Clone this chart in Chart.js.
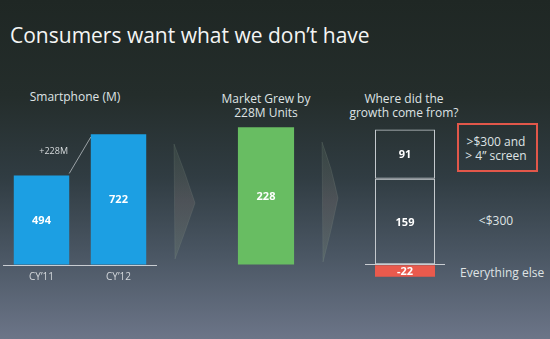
<!DOCTYPE html>
<html>
<head>
<meta charset="utf-8">
<script src="https://cdn.jsdelivr.net/npm/chart.js@4"></script>
<style>
  html, body { margin: 0; padding: 0; }
  body {
    width: 550px; height: 339px; overflow: hidden; position: relative;
    background: linear-gradient(180deg, #1f2724 0%, #242d2b 28%, #303c42 52%, #4a5663 75%, #6c7588 100%);
    font-family: "Open Sans", sans-serif; color: #dfe3e4;
  }
  .txt { position: absolute; white-space: nowrap; font-size: 12px; line-height: 14px; text-align: center; }
  #title { left: 10px; top: 20px; font-size: 21px; line-height: 30px; color: #f4f5f4; }
  .chartBox { position: absolute; }
  #redBox { position: absolute; left: 457px; top: 123px; width: 77px; height: 45px; border: 2px solid #e2574a; }
  svg { position: absolute; left: 0; top: 0; }
</style>
</head>
<body>

<div id="title" class="txt">Consumers want what we don’t have</div>

<div class="txt" style="left:15px; top:90px; width:120px;">Smartphone (M)</div>
<div class="txt" style="left:206px; top:92px; width:120px;">Market Grew by<br>228M Units</div>
<div class="txt" style="left:344px; top:92px; width:120px;">Where did the<br>growth come from?</div>

<div id="redBox"></div>
<div class="txt" style="left:436px; top:135px; width:120px;">&gt;$300 and<br>&gt; 4” screen</div>
<div class="txt" style="left:436px; top:214px; width:120px;">&lt;$300</div>
<div class="txt" style="left:460px; top:266px; text-align:left;">Everything else</div>

<!-- chevrons between the panels -->
<svg width="550" height="339">
  <defs>
    <linearGradient id="chev" x1="0" y1="0" x2="0" y2="1">
      <stop offset="0" stop-color="#6f8a70" stop-opacity="0.18"/>
      <stop offset="0.5" stop-color="#8a7a78" stop-opacity="0.26"/>
      <stop offset="1" stop-color="#7f957a" stop-opacity="0.22"/>
    </linearGradient>
  </defs>
  <path d="M174 144 Q185 172 195 203 Q185 232 175 259 Z" fill="url(#chev)" stroke="#9aab9a" stroke-opacity="0.18" stroke-width="0.8"/>
  <path d="M322 142 Q332 168 338 198 Q331 232 323 262 Z" fill="url(#chev)" stroke="#9aab9a" stroke-opacity="0.18" stroke-width="0.8"/>
</svg>

<div class="chartBox" style="left:3px; top:120px; width:154px; height:161px;"><canvas id="c1"></canvas></div>
<div class="chartBox" style="left:227px; top:114px; width:78px; height:151px;"><canvas id="c2"></canvas></div>
<div class="chartBox" style="left:365px; top:124px; width:80px; height:157px;"><canvas id="c3"></canvas></div>

<script>
// ---------------- DATA ----------------
const years = ["CY’11", "CY’12"];
const shipments = [494, 722];

const growthLabel = ["Growth"];
const growth = [228];

const segments = ["<$300", ">$300 and > 4” screen", "Everything else"];
const segmentValues = [159, 91, -22];

// ---------------- SHARED ----------------
const baseLine = "#c9cdd2";

// y axis that shows nothing but the zero line
function zeroAxis(min, max) {
    return {
        display: true, min: min, max: max,
        afterFit: s => { s.width = 0; },
        afterBuildTicks: s => { s.ticks = [{ value: 0 }]; },
        ticks: { display: false },
        border: { display: false },
        grid: { drawTicks: false, color: baseLine, lineWidth: 1 }
    };
}

// writes each bar's value in the middle of the bar
const valueLabels = {
    id: "valueLabels",
    afterDatasetsDraw(chart) {
        const ctx = chart.ctx;
        ctx.save();
        ctx.font = "bold 11px 'Open Sans'";
        ctx.fillStyle = "#ffffff";
        ctx.textAlign = "center";
        ctx.textBaseline = "middle";
        chart.data.datasets.forEach((ds, i) => {
            chart.getDatasetMeta(i).data.forEach((bar, j) => {
                ctx.fillText(ds.data[j], bar.x, (bar.y + bar.base) / 2 + 1);
            });
        });
        ctx.restore();
    }
};

// connector between the two years with the difference
const growthLine = {
    id: "growthLine",
    afterDatasetsDraw(chart) {
        const bars = chart.getDatasetMeta(0).data;
        const a = bars[0], b = bars[1];
        const x0 = a.x + a.width / 2, y0 = a.y - 2;
        const x1 = b.x - b.width / 2, y1 = b.y + 3;
        const ctx = chart.ctx;
        ctx.save();
        ctx.strokeStyle = "#b8bec2";
        ctx.lineWidth = 0.8;
        ctx.beginPath();
        ctx.moveTo(x0, y0);
        ctx.lineTo(x1, y1);
        ctx.stroke();
        ctx.font = "9px 'Open Sans'";
        ctx.fillStyle = "#d6dadc";
        ctx.textAlign = "right";
        ctx.textBaseline = "middle";
        ctx.fillText("+" + (shipments[1] - shipments[0]) + "M", (x0 + x1) / 2 - 12, (y0 + y1) / 2 - 4);
        ctx.restore();
    }
};

const common = {
    responsive: true,
    maintainAspectRatio: false,
    animation: false,
    plugins: { legend: { display: false }, tooltip: { enabled: false } },
    layout: { padding: 0 }
};

// ---------------- SMARTPHONE UNITS ----------------
new Chart(document.getElementById("c1"), {
    type: "bar",
    data: {
        labels: years,
        datasets: [{
            data: shipments,
            backgroundColor: "#1c9fe3",
            barPercentage: 0.72,
            categoryPercentage: 1
        }]
    },
    options: {
        ...common,
        scales: {
            x: {
                afterFit: s => { s.height = 16; },
                grid: { display: false, drawTicks: false },
                border: { display: false },
                ticks: { color: "#d4d8dc", font: { family: "Open Sans", size: 10 }, padding: 6 }
            },
            y: zeroAxis(0, 800)
        }
    },
    plugins: [valueLabels, growthLine]
});

// ---------------- MARKET GROWTH ----------------
new Chart(document.getElementById("c2"), {
    type: "bar",
    data: {
        labels: growthLabel,
        datasets: [{
            data: growth,
            backgroundColor: "#68bd62",
            barPercentage: 0.72,
            categoryPercentage: 1
        }]
    },
    options: {
        ...common,
        scales: {
            x: { display: false },
            y: zeroAxis(0, 250)
        }
    },
    plugins: [valueLabels]
});

// ---------------- GROWTH BREAKDOWN ----------------
new Chart(document.getElementById("c3"), {
    type: "bar",
    data: {
        labels: ["Breakdown"],
        datasets: segments.map((name, i) => ({
            label: name,
            data: [segmentValues[i]],
            backgroundColor: segmentValues[i] < 0 ? "#ea5a4d" : "transparent",
            borderColor: segmentValues[i] < 0 ? "#ea5a4d" : "#c4c9cd",
            borderWidth: segmentValues[i] < 0 ? 0 : 1,
            borderSkipped: false,
            barPercentage: 0.75,
            categoryPercentage: 1
        }))
    },
    options: {
        ...common,
        scales: {
            x: { display: false, stacked: true },
            y: { ...zeroAxis(-30, 260), stacked: true }
        }
    },
    plugins: [valueLabels]
});
</script>
</body>
</html>
